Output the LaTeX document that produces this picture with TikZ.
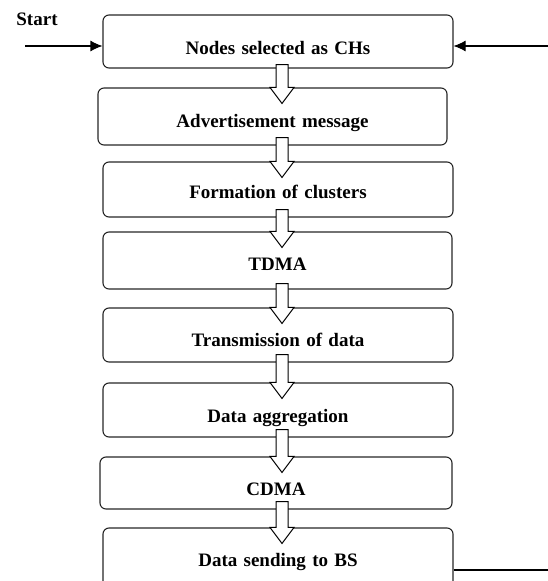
\documentclass[tikz,border=0pt]{standalone}
\usepackage{fontspec}
\setmainfont{Liberation Serif}
\usetikzlibrary{calc,arrows.meta}
\begin{document}
\begin{tikzpicture}[x=1pt,y=-1pt,
  stepbox/.style={draw=black!85, line width=1.1pt, rounded corners=6pt, inner sep=0pt,
    align=center, font=\fontsize{19}{23}\selectfont\bfseries},
  hollow/.style={draw=black, fill=white, line width=1pt, line join=miter},
  inarrow/.style={line width=1.1pt, -{Latex[length=12pt,width=11pt]}},
  plainline/.style={line width=1.1pt}]
\useasboundingbox (0,0) rectangle (548,581);
\clip (0,0) rectangle (548,581);
\coordinate (ax) at (282,0);
\node[stepbox, text width=350pt, text height=39pt, text depth=14pt] (b1) at (278,41.5) {Nodes selected as CHs};
\node[stepbox, text width=349pt, text height=39pt, text depth=18pt] (b2) at (272.5,116.5) {Advertisement message};
\node[stepbox, text width=350pt, text height=36pt, text depth=19pt] (b3) at (278,189.5) {Formation of clusters};
\node[stepbox, text width=349pt, text height=38pt, text depth=19pt] (b4) at (277.5,260.5) {TDMA};
\node[stepbox, text width=350pt, text height=38pt, text depth=16pt] (b5) at (278,335) {Transmission of data};
\node[stepbox, text width=350pt, text height=39pt, text depth=15pt] (b6) at (278,410) {Data aggregation};
\node[stepbox, text width=352pt, text height=38pt, text depth=14pt] (b7) at (276,483) {CDMA};
\node[stepbox, text width=350pt, text height=38pt, text depth=34pt] (b8) at (278,564) {Data sending to BS};
\node[font=\fontsize{19}{22}\selectfont\bfseries, inner sep=0pt] (start) at (37,19) {Start};
\coordinate (s) at (25,46);
\coordinate (e) at (548,46);
\coordinate (f) at (548,570);
\draw[inarrow] (s) -- (s -| b1.west);
\draw[inarrow] (e) -- (e -| b1.east);
\draw[plainline] (f -| b8.east) -- (f);
\newcommand{\hollowarrow}[3]{%
  \draw[hollow] ($(#1.south -| ax)+(-6pt,#3)$) -- ($(#2.north -| ax)+(-6pt,0pt)$)
    -- ($(#2.north -| ax)+(-12pt,0pt)$) -- ($(#2.north -| ax)+(0pt,-16pt)$)
    -- ($(#2.north -| ax)+(12pt,0pt)$) -- ($(#2.north -| ax)+(6pt,0pt)$)
    -- ($(#1.south -| ax)+(6pt,#3)$) -- cycle;}
\hollowarrow{b1}{b2}{4pt}
\hollowarrow{b2}{b3}{8pt}
\hollowarrow{b3}{b4}{8pt}
\hollowarrow{b4}{b5}{6pt}
\hollowarrow{b5}{b6}{8pt}
\hollowarrow{b6}{b7}{8pt}
\hollowarrow{b7}{b8}{8pt}
\end{tikzpicture}
\end{document}
